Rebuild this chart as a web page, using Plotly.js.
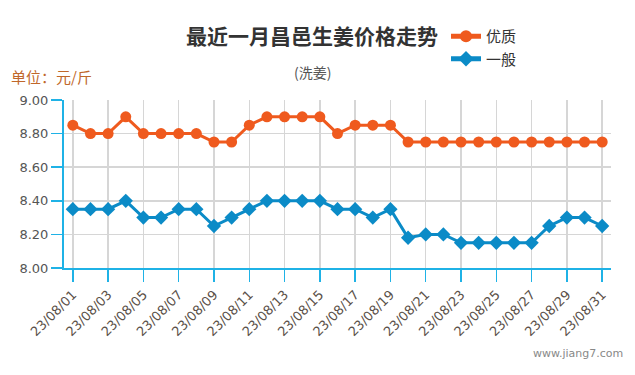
<!DOCTYPE html>
<html>
<head>
<meta charset="utf-8">
<script src="https://cdn.plot.ly/plotly-3.0.1.min.js"></script>
<style>html,body{margin:0;padding:0;background:#fff;}#chart{width:635px;height:375px;}</style>
</head>
<body>
<div id="chart"></div>
<script>
var dates = ["23/08/01","23/08/02","23/08/03","23/08/04","23/08/05","23/08/06","23/08/07","23/08/08","23/08/09","23/08/10","23/08/11","23/08/12","23/08/13","23/08/14","23/08/15","23/08/16","23/08/17","23/08/18","23/08/19","23/08/20","23/08/21","23/08/22","23/08/23","23/08/24","23/08/25","23/08/26","23/08/27","23/08/28","23/08/29","23/08/30","23/08/31"];
var premium = [8.85,8.80,8.80,8.90,8.80,8.80,8.80,8.80,8.75,8.75,8.85,8.90,8.90,8.90,8.90,8.80,8.85,8.85,8.85,8.75,8.75,8.75,8.75,8.75,8.75,8.75,8.75,8.75,8.75,8.75,8.75];
var ordinary = [8.35,8.35,8.35,8.40,8.30,8.30,8.35,8.35,8.25,8.30,8.35,8.40,8.40,8.40,8.40,8.35,8.35,8.30,8.35,8.18,8.20,8.20,8.15,8.15,8.15,8.15,8.15,8.25,8.30,8.30,8.25];
var xTickLabels = dates.filter(function(d, i){ return i % 2 === 0; });
var seriesNames = ["优质","一般"];
var yTicks = [8.00,8.20,8.40,8.60,8.80,9.00];

var L = 64, R = 611, T = 100, B = 268;
function px(x){ return (x - L) / (R - L); }
function py(y){ return (B - y) / (B - T); }

var orange = "#ef5a1e", blue = "#0b8bc7", axisBlue = "#1fb2e6";

var traces = [
  {x: dates, y: premium, name: seriesNames[0], type: "scatter", mode: "lines+markers",
   line: {color: orange, width: 3}, marker: {symbol: "circle", size: 11, color: orange}},
  {x: dates, y: ordinary, name: seriesNames[1], type: "scatter", mode: "lines+markers",
   line: {color: blue, width: 3}, marker: {symbol: "diamond", size: 11, color: blue}}
];

var layout = {
  width: 635, height: 375,
  margin: {l: L, r: 635 - R, t: T, b: 375 - B},
  paper_bgcolor: "#fff", plot_bgcolor: "#fff",
  showlegend: true,
  font: {family: "DejaVu Sans, sans-serif", color: "#555"},
  xaxis: {
    type: "category", range: [-0.5, 30.5],
    tickmode: "array", tickvals: xTickLabels, ticktext: xTickLabels,
    tickangle: -45, tickfont: {size: 13, color: "#5a5048", family: "DejaVu Sans, sans-serif"},
    ticks: "outside", ticklen: 12, tickcolor: axisBlue, tickwidth: 1.5,
    showgrid: true, gridcolor: "#d6d6d6", gridwidth: 1.5,
    showline: true, linecolor: axisBlue, linewidth: 2, zeroline: false, fixedrange: true
  },
  yaxis: {
    range: [8.0, 9.0], tickmode: "array", tickvals: yTicks,
    ticktext: yTicks.map(function(v){ return v.toFixed(2); }),
    tickfont: {size: 13, color: "#555", family: "DejaVu Sans, sans-serif"},
    ticks: "outside", ticklen: 11, tickcolor: axisBlue, tickwidth: 1.5,
    showgrid: true, gridcolor: "#d6d6d6", gridwidth: 1.5,
    showline: true, linecolor: axisBlue, linewidth: 2, zeroline: false, fixedrange: true
  },
  legend: {
    x: px(446), y: py(20), xanchor: "left", yanchor: "top",
    font: {size: 15, color: "#333", family: "Noto Sans CJK SC, sans-serif"},
    bgcolor: "rgba(0,0,0,0)", tracegroupgap: 0, itemwidth: 30, itemsizing: "constant"
  },
  annotations: [
    {text: "<b>最近一月昌邑生姜价格走势</b>", xref: "paper", yref: "paper",
     x: px(312), y: py(35), xanchor: "center", yanchor: "middle", showarrow: false,
     font: {size: 21, color: "#333", family: "Noto Sans CJK SC, sans-serif"}},
    {text: "(洗姜)", xref: "paper", yref: "paper",
     x: px(312), y: py(72), xanchor: "center", yanchor: "middle", showarrow: false,
     font: {size: 14, color: "#555", family: "Noto Sans CJK SC, sans-serif"}},
    {text: "单位：元/斤", xref: "paper", yref: "paper",
     x: px(9), y: py(76), xanchor: "left", yanchor: "middle", showarrow: false,
     font: {size: 15, color: "#c0672a", family: "Noto Sans CJK SC, sans-serif"}},
    {text: "www.jiang7.com", xref: "paper", yref: "paper",
     x: px(625), y: py(353), xanchor: "right", yanchor: "middle", showarrow: false,
     font: {size: 11, color: "#888", family: "DejaVu Sans, sans-serif"}}
  ]
};

Plotly.newPlot("chart", traces, layout, {displayModeBar: false, staticPlot: true});
</script>
</body>
</html>
